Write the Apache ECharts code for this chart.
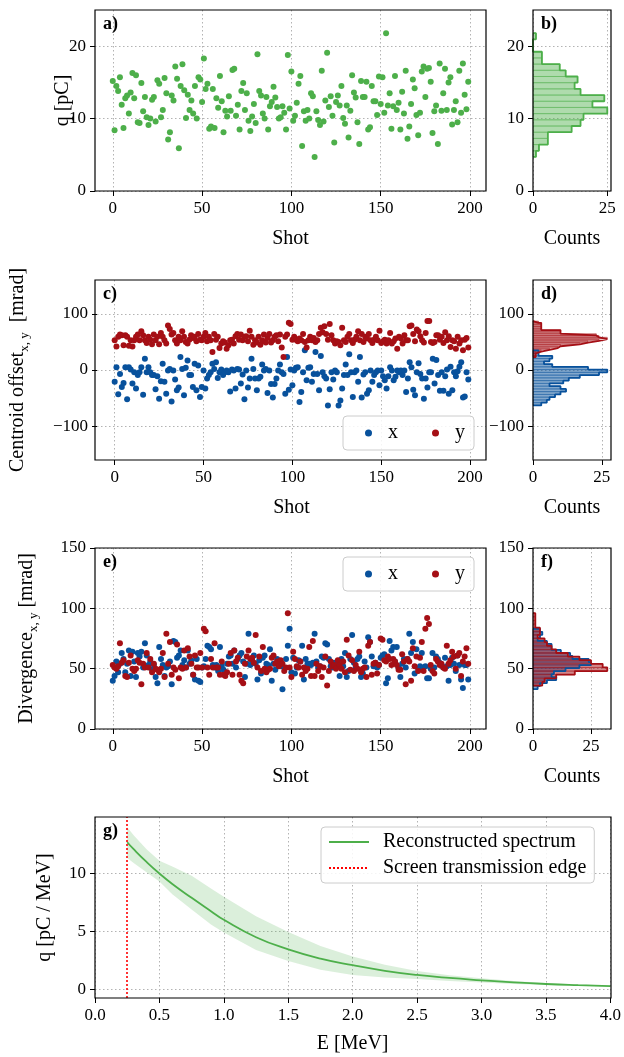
<!DOCTYPE html>
<html>
<head>
<meta charset="utf-8">
<script src="https://cdn.jsdelivr.net/npm/echarts@6/dist/echarts.min.js"></script>
<style>
  html, body { margin: 0; padding: 0; background: #fff; }
  #chart { width: 624px; height: 1057px; }
</style>
</head>
<body>
<div id="chart"></div>
<script>
// ---- shot-by-shot measurements (shot number = array index) ----
const charge = [
  15.2, 8.4, 14.5, 13.8, 15.7, 11.9, 8.7, 12.8, 13.2, 10.7,
  13.6, 16.3, 12.8, 16.0, 9.5, 9.4, 14.9, 11.0, 13.0, 10.2,
  9.1, 10.0, 12.6, 13.0, 9.6, 15.3, 14.8, 10.2, 11.2, 15.6,
  13.5, 7.1, 8.1, 13.2, 12.5, 17.2, 15.5, 5.9, 14.5, 17.5,
  13.9, 10.1, 13.3, 11.2, 12.5, 10.7, 14.5, 10.0, 15.7, 15.4,
  12.3, 18.3, 14.1, 14.8, 8.6, 8.9, 14.1, 8.7, 12.8, 11.5,
  15.9, 12.4, 8.1, 11.1, 10.3, 13.1, 11.1, 16.7, 16.9, 10.4,
  11.9, 8.5, 13.8, 14.9, 11.2, 13.5, 9.7, 8.3, 10.3, 12.0,
  9.4, 18.9, 13.8, 13.2, 10.7, 10.0, 13.0, 8.5, 11.7, 12.3,
  14.4, 12.9, 11.6, 10.0, 10.2, 11.7, 10.8, 8.5, 18.8, 11.4,
  16.5, 9.7, 10.4, 12.2, 14.8, 15.9, 6.2, 11.0, 9.7, 11.2,
  10.0, 13.5, 13.1, 4.7, 11.0, 9.8, 9.1, 16.6, 9.6, 12.5,
  19.1, 11.6, 13.1, 10.4, 6.7, 12.3, 13.2, 11.8, 14.5, 10.1,
  9.3, 11.8, 7.4, 11.1, 16.0, 13.6, 12.9, 9.5, 6.5, 15.2,
  13.0, 13.0, 15.1, 8.5, 8.8, 14.5, 12.4, 12.4, 10.5, 15.8,
  12.0, 15.7, 10.8, 21.8, 11.8, 13.5, 8.6, 11.7, 15.9, 11.2,
  12.2, 8.5, 13.7, 10.7, 16.6, 7.2, 8.9, 12.0, 15.4, 14.2,
  10.5, 7.7, 10.8, 16.5, 17.2, 13.0, 16.9, 17.0, 15.1, 8.0,
  11.0, 11.8, 6.5, 17.6, 11.1, 13.5, 16.9, 11.2, 15.0, 15.7,
  9.2, 11.2, 12.4, 9.5, 16.6, 10.8, 17.6, 13.3, 11.3, 15.1
];

const centroidX = [
  -21, 5, -43, -7, -30, -23, 5, -52, 5, 1,
  -24, -4, -33, -9, -4, 5, -44, 20, -4, 5,
  -4, -9, -9, -34, -11, -51, -20, 11, -21, -42,
  -1, 2, -56, -1, -17, -36, -31, 23, 2, -45,
  4, 17, -9, -9, -30, 11, -36, 8, -48, -30,
  -1, -33, -15, -9, -4, 11, 2, 14, -14, -4,
  1, -9, -4, -1, -4, -38, 1, -1, -33, 2,
  1, -24, -8, -52, -1, -31, -15, 20, 2, -15,
  -36, -15, -12, 10, -1, 2, -41, -1, -25, -49,
  -25, -15, -1, 10, -4, -7, -42, 23, -35, 1,
  -27, -1, 4, 5, -57, -39, -4, 35, -18, 4,
  5, -21, -7, 32, -7, -36, 25, -4, -11, -15,
  -63, -34, -4, -17, -1, -4, -63, -54, -33, -9,
  10, -9, 28, -4, -48, -4, -1, -21, 23, -49,
  -8, -4, -42, -36, -1, -21, -9, -4, -1, -27,
  -1, -11, -18, -33, -11, 5, -1, -18, -12, -1,
  -4, -1, -9, -1, -39, -15, 14, 5, -35, -45,
  -4, 12, -7, -15, -51, -15, -31, -4, -4, 20,
  -24, 18, -9, -37, -4, -37, -11, 1, -42, 6,
  -36, -4, -11, -2, 6, 14, -49, -47, -4, -17
];

const centroidY = [
  53, 42, 59, 63, 62, 44, 62, 59, 43, 53,
  42, 53, 59, 63, 53, 69, 62, 53, 48, 59,
  54, 46, 63, 53, 59, 46, 66, 59, 53, 47,
  79, 73, 63, 66, 53, 47, 59, 53, 69, 59,
  50, 47, 54, 62, 57, 59, 51, 64, 54, 53,
  59, 66, 51, 59, 53, 32, 64, 54, 59, 39,
  47, 51, 49, 38, 44, 53, 54, 47, 60, 64,
  54, 63, 53, 59, 60, 51, 70, 59, 45, 53,
  49, 59, 45, 53, 63, 49, 57, 64, 49, 53,
  59, 62, 51, 63, 40, 23, 59, 63, 84, 82,
  54, 59, 54, 51, 56, 53, 64, 50, 40, 53,
  59, 53, 57, 50, 53, 64, 75, 67, 78, 64,
  54, 82, 62, 53, 47, 51, 50, 44, 75, 53,
  50, 59, 64, 53, 48, 54, 59, 69, 53, 64,
  50, 59, 56, 64, 53, 48, 54, 59, 53, 70,
  48, 51, 54, 47, 53, 66, 47, 51, 56, 38,
  59, 56, 47, 62, 53, 53, 78, 79, 64, 51,
  72, 69, 60, 53, 49, 66, 87, 87, 50, 48,
  50, 62, 62, 54, 59, 48, 67, 53, 60, 41,
  53, 51, 38, 59, 47, 53, 35, 54, 57, 40
];

const divergenceX = [
  40, 44, 56, 47, 54, 63, 58, 47, 54, 65,
  44, 64, 56, 43, 63, 60, 64, 51, 71, 61,
  53, 56, 49, 53, 43, 38, 68, 58, 53, 44,
  51, 52, 56, 37, 73, 72, 59, 61, 65, 53,
  57, 51, 65, 54, 57, 45, 41, 58, 40, 39,
  51, 52, 58, 69, 68, 66, 53, 51, 53, 48,
  68, 52, 49, 47, 54, 60, 61, 54, 65, 51,
  58, 61, 63, 56, 43, 54, 79, 53, 57, 61,
  54, 41, 57, 46, 59, 61, 54, 53, 66, 40,
  54, 49, 58, 54, 52, 33, 51, 58, 69, 83,
  47, 59, 46, 51, 57, 56, 69, 41, 58, 54,
  54, 53, 55, 79, 56, 51, 52, 60, 59, 71,
  70, 58, 52, 51, 55, 51, 54, 44, 58, 52,
  63, 43, 48, 58, 78, 55, 51, 58, 60, 43,
  46, 56, 51, 76, 72, 60, 52, 55, 51, 53,
  59, 61, 62, 38, 42, 73, 65, 68, 56, 68,
  51, 43, 54, 58, 51, 58, 79, 63, 72, 46,
  66, 50, 52, 63, 51, 52, 42, 42, 50, 63,
  51, 60, 58, 55, 53, 51, 59, 52, 40, 53,
  59, 54, 48, 61, 53, 41, 34, 53, 53, 41
];

const divergenceY = [
  53, 51, 50, 52, 71, 55, 57, 44, 43, 55,
  61, 50, 48, 50, 57, 55, 37, 54, 51, 63,
  51, 58, 47, 54, 50, 49, 47, 50, 63, 43,
  79, 54, 72, 45, 51, 49, 70, 42, 51, 50,
  65, 51, 67, 60, 54, 45, 61, 51, 51, 63,
  51, 83, 81, 51, 45, 58, 51, 71, 51, 51,
  45, 56, 45, 44, 47, 54, 63, 45, 65, 56,
  59, 45, 40, 38, 54, 60, 65, 58, 59, 55,
  78, 51, 60, 48, 68, 50, 47, 49, 50, 59,
  61, 54, 56, 52, 57, 54, 48, 51, 96, 51,
  43, 64, 58, 52, 51, 56, 45, 51, 48, 50,
  68, 44, 73, 44, 54, 48, 52, 43, 51, 60,
  36, 48, 56, 52, 53, 50, 57, 53, 50, 56,
  47, 74, 61, 49, 57, 48, 53, 50, 64, 47,
  50, 51, 43, 69, 72, 45, 54, 55, 46, 53,
  75, 74, 57, 56, 60, 58, 53, 58, 56, 53,
  49, 49, 62, 56, 37, 58, 56, 40, 67, 52,
  60, 48, 59, 72, 48, 83, 92, 87, 53, 48,
  46, 58, 56, 53, 54, 51, 50, 69, 54, 57,
  64, 60, 50, 61, 63, 44, 56, 60, 67, 54
];

// ---- histogram counts, 20 equal bins from each sample's minimum to maximum ----
const chargeCounts      = [1, 2, 5, 5, 13, 16, 17, 25, 20, 24, 16, 14, 15, 11, 9, 3, 3, 0, 0, 1];
const centroidXCounts   = [3, 5, 6, 8, 10, 12, 10, 6, 11, 13, 17, 24, 27, 20, 7, 4, 6, 7, 2, 2];
const centroidYCounts   = [1, 1, 1, 3, 6, 9, 10, 17, 20, 24, 27, 24, 23, 10, 10, 3, 3, 3, 3, 2];
const divergenceXCounts = [2, 3, 6, 10, 8, 9, 14, 20, 25, 24, 17, 16, 12, 8, 8, 6, 2, 3, 4, 3];
const divergenceYCounts = [4, 5, 10, 18, 32, 30, 25, 20, 15, 10, 8, 6, 5, 2, 3, 3, 1, 1, 1, 1];

// ---- reconstructed spectrum with its uncertainty band ----
const energy       = [0.25, 0.3, 0.4, 0.5, 0.6, 0.75, 0.9, 1.0, 1.25, 1.5, 1.75, 2.0, 2.25, 2.5, 2.75, 3.0, 3.25, 3.5, 3.75, 4.0];
const spectrum     = [12.7, 12.1, 11.0, 10.0, 9.1, 7.9, 6.75, 6.0, 4.5, 3.45, 2.65, 2.08, 1.6, 1.24, 0.98, 0.78, 0.6, 0.46, 0.36, 0.28];
const spectrumHigh = [14.0, 13.3, 12.1, 11.1, 10.6, 9.8, 8.7, 8.0, 6.3, 4.95, 3.75, 2.83, 2.12, 1.59, 1.21, 0.95, 0.72, 0.55, 0.42, 0.32];
const spectrumLow  = [11.35, 10.9, 10.1, 9.3, 8.2, 6.9, 5.6, 4.9, 3.4, 2.45, 1.7, 1.24, 1.02, 0.88, 0.72, 0.58, 0.46, 0.37, 0.3, 0.24];
const edgeEnergy = 0.25;

// ---- tick labels ----
const shotTicks = [0, 50, 100, 150, 200];
const chargeTicks = [0, 10, 20];
const offsetTicks = [-100, 0, 100];
const divergenceTicks = [0, 50, 100, 150];
const countTicks = [0, 25];
const spectrumTicks = [0, 5, 10];
const panelLabels = ['a)', 'b)', 'c)', 'd)', 'e)', 'f)', 'g)'];

// ---- styling ----
const FONT = 'Liberation Serif';
const GREEN = '#4daf4a', BLUE = '#08519c', RED = '#a50f15';
const GRID_LINE = { color: '#b3b3b3', type: [1.5, 2.5], width: 1 };

// bins [lo, hi, count] spanning the sample's range
function binned(values, counts) {
  const lo = Math.min.apply(null, values), hi = Math.max.apply(null, values);
  const w = (hi - lo) / counts.length;
  return counts.map(function (c, i) { return [lo + i * w, lo + (i + 1) * w, c]; });
}

function stepOutline(bins) {
  const pts = [[0, bins[0][0]]];
  bins.forEach(function (b) { pts.push([b[2], b[0]]); pts.push([b[2], b[1]]); });
  pts.push([0, bins[bins.length - 1][1]]);
  return pts;
}

const histQ = binned(charge, chargeCounts);
const histCX = binned(centroidX, centroidXCounts);
const histCY = binned(centroidY, centroidYCounts);
const histDX = binned(divergenceX, divergenceXCounts);
const histDY = binned(divergenceY, divergenceYCounts);
function countLimit() {
  let m = 0;
  for (let a = 0; a < arguments.length; a++) arguments[a].forEach(function (c) { m = Math.max(m, c); });
  return m * 1.05;
}

const panels = [
  { left: 95, top: 10, width: 391, height: 181 },
  { left: 533, top: 10, width: 78, height: 181 },
  { left: 95, top: 280, width: 391, height: 180 },
  { left: 533, top: 280, width: 78, height: 180 },
  { left: 95, top: 548, width: 391, height: 181 },
  { left: 533, top: 548, width: 78, height: 181 },
  { left: 95, top: 817, width: 516, height: 181 }
];
const grids = panels.map(function (g) { return Object.assign({ show: false }, g); });

function minusFmt(v) { return v < 0 ? '\u2212' + Math.abs(v) : String(v); }

function axis(gridIndex, o) {
  const ax = {
    type: 'value',
    gridIndex: gridIndex,
    min: o.min, max: o.max,
    axisLine: { show: false, onZero: false },
    axisTick: { show: true, length: 5, lineStyle: { color: '#000', width: 1 } },
    axisLabel: { color: '#000', fontFamily: FONT, fontSize: 17, margin: 9, formatter: o.fmt || minusFmt },
    splitLine: { show: true, lineStyle: GRID_LINE },
    nameLocation: 'middle',
    nameGap: o.nameGap,
    nameMoveOverlap: false,
    name: o.name || '',
    nameTextStyle: Object.assign({ color: '#000', fontFamily: FONT, fontSize: 20 }, o.nameStyle || {})
  };
  if (o.interval !== undefined) ax.interval = o.interval;
  if (o.ticks) {
    ax.axisTick.customValues = o.ticks;
    ax.axisLabel.customValues = o.ticks;
  }
  return ax;
}

const xAxes = [
  axis(0, { min: -9.95, max: 208.95, ticks: shotTicks, name: 'Shot', nameGap: 38 }),
  axis(1, { min: 0, max: countLimit(chargeCounts), ticks: countTicks, name: 'Counts', nameGap: 38 }),
  axis(2, { min: -9.95, max: 208.95, ticks: shotTicks, name: 'Shot', nameGap: 38 }),
  axis(3, { min: 0, max: countLimit(centroidXCounts, centroidYCounts), ticks: countTicks, name: 'Counts', nameGap: 38 }),
  axis(4, { min: -9.95, max: 208.95, ticks: shotTicks, name: 'Shot', nameGap: 38 }),
  axis(5, { min: 0, max: countLimit(divergenceXCounts, divergenceYCounts), ticks: countTicks, name: 'Counts', nameGap: 38 }),
  axis(6, { min: 0, max: 4, interval: 0.5, name: 'E [MeV]', nameGap: 36, fmt: function (v) { return v.toFixed(1); } })
];

const subRich = {
  t: { fontFamily: FONT, fontSize: 20, lineHeight: 26, color: '#000' },
  s: { fontFamily: FONT, fontSize: 13, lineHeight: 13, verticalAlign: 'bottom', color: '#000' }
};

const yAxes = [
  axis(0, { min: 0, max: 25, ticks: chargeTicks, name: 'q [pC]', nameGap: 22 }),
  axis(1, { min: 0, max: 25, ticks: chargeTicks }),
  axis(2, { min: -160, max: 160, ticks: offsetTicks, name: '{t|Centroid offset}{s|x, y}{t|  [mrad]}', nameGap: 66, nameStyle: { rich: subRich } }),
  axis(3, { min: -160, max: 160, ticks: offsetTicks }),
  axis(4, { min: 0, max: 150, ticks: divergenceTicks, name: '{t|Divergence}{s|x, y}{t| [mrad]}', nameGap: 55, nameStyle: { rich: subRich } }),
  axis(5, { min: 0, max: 150, ticks: divergenceTicks }),
  axis(6, { min: -0.75, max: 14.88, ticks: spectrumTicks, name: 'q [pC / MeV]', nameGap: 40 })
];

function histFill(fill, edge) {
  return function (params, api) {
    const p0 = api.coord([0, api.value(0)]);
    const p1 = api.coord([api.value(2), api.value(1)]);
    return {
      type: 'rect',
      shape: { x: p0[0], y: p1[1], width: p1[0] - p0[0], height: p0[1] - p1[1] },
      style: { fill: fill, stroke: edge, lineWidth: 0.8 }
    };
  };
}

function histSeries(idx, bins, fill, edge, color) {
  return [
    {
      type: 'custom', xAxisIndex: idx, yAxisIndex: idx, silent: true,
      encode: { x: 2, y: [0, 1] },
      data: bins, renderItem: histFill(fill, edge)
    },
    {
      type: 'line', xAxisIndex: idx, yAxisIndex: idx, silent: true,
      data: stepOutline(bins), symbol: 'none',
      lineStyle: { color: color, width: 1.8 }, z: 3
    }
  ];
}

function scatter(idx, name, values, color) {
  return {
    type: 'scatter', name: name, xAxisIndex: idx, yAxisIndex: idx,
    data: values.map(function (v, i) { return [i, v]; }),
    symbolSize: 6, itemStyle: { color: color, opacity: 1 }
  };
}

const series = [].concat(
  scatter(0, 'q', charge, GREEN),
  histSeries(1, histQ, 'rgba(77,175,74,0.45)', 'rgba(77,175,74,0.55)', GREEN),
  scatter(2, 'x', centroidX, BLUE),
  scatter(2, 'y', centroidY, RED),
  histSeries(3, histCX, 'rgba(8,81,156,0.5)', 'rgba(8,81,156,0.5)', BLUE),
  histSeries(3, histCY, 'rgba(165,15,21,0.5)', 'rgba(165,15,21,0.5)', RED),
  scatter(4, 'x', divergenceX, BLUE),
  scatter(4, 'y', divergenceY, RED),
  histSeries(5, histDX, 'rgba(8,81,156,0.5)', 'rgba(8,81,156,0.5)', BLUE),
  histSeries(5, histDY, 'rgba(165,15,21,0.5)', 'rgba(165,15,21,0.5)', RED),
  [
    {
      type: 'custom', xAxisIndex: 6, yAxisIndex: 6, silent: true,
      data: [[energy[0], spectrumLow[0]]],
      renderItem: function (params, api) {
        const upper = energy.map(function (e, i) { return api.coord([e, spectrumHigh[i]]); });
        const lower = energy.map(function (e, i) { return api.coord([e, spectrumLow[i]]); }).reverse();
        return { type: 'polygon', shape: { points: upper.concat(lower) }, style: { fill: 'rgba(77,175,74,0.2)' } };
      }
    },
    {
      type: 'line', name: 'Reconstructed spectrum', xAxisIndex: 6, yAxisIndex: 6,
      data: energy.map(function (e, i) { return [e, spectrum[i]]; }),
      smooth: true, symbol: 'none', lineStyle: { color: GREEN, width: 1.8 }, itemStyle: { color: GREEN }, z: 4
    },
    {
      type: 'line', name: 'Screen transmission edge', xAxisIndex: 6, yAxisIndex: 6,
      data: [], symbol: 'none',
      lineStyle: { color: '#ff0000', width: 1.6, type: [2, 2] }, itemStyle: { color: '#ff0000' },
      markLine: {
        silent: true, symbol: ['none', 'none'], label: { show: false },
        lineStyle: { color: '#ff0000', width: 1.6, type: [2, 2] },
        data: [{ xAxis: edgeEnergy }]
      }
    }
  ]
);

const legendBox = {
  borderColor: '#cccccc', borderWidth: 1, borderRadius: 4,
  backgroundColor: 'rgba(255,255,255,0.85)'
};
const legendXY = function (top) {
  return Object.assign({
    data: ['x', 'y'], orient: 'horizontal', left: 343, top: top,
    padding: [7, 9, 7, 22], itemGap: 34, itemWidth: 7, itemHeight: 7, icon: 'circle',
    selectedMode: false,
    textStyle: { fontFamily: FONT, fontSize: 20, color: '#000', padding: [0, 0, 0, 11] }
  }, legendBox);
};

// panel frames drawn above the dotted grid lines, plus the panel letters
const frames = panels.map(function (p) {
  return {
    type: 'rect', z: 90, silent: true,
    shape: { x: p.left, y: p.top, width: p.width, height: p.height },
    style: { fill: 'none', stroke: '#000', lineWidth: 1.2 }
  };
});
const letters = panelLabels.map(function (t, i) {
  return {
    type: 'text', left: panels[i].left + 8, top: panels[i].top + 5, z: 100,
    style: { text: t, font: 'bold 18px "' + FONT + '"', fill: '#000' }
  };
});

const option = {
  animation: false,
  backgroundColor: '#fff',
  grid: grids,
  xAxis: xAxes,
  yAxis: yAxes,
  series: series,
  legend: [
    legendXY(416),
    legendXY(557),
    Object.assign({
      data: ['Reconstructed spectrum', 'Screen transmission edge'],
      orient: 'vertical', left: 321, top: 827,
      padding: [5, 8, 5, 7], itemGap: 6, itemWidth: 40, itemHeight: 14,
      selectedMode: false,
      itemStyle: { color: 'rgba(0,0,0,0)', borderWidth: 0, opacity: 0 },
      textStyle: { fontFamily: FONT, fontSize: 20, color: '#000', padding: [0, 0, 0, 9] }
    }, legendBox)
  ],
  graphic: frames.concat(letters)
};

const chart = echarts.init(document.getElementById('chart'), null, { renderer: 'canvas' });
chart.setOption(option);
</script>
</body>
</html>
